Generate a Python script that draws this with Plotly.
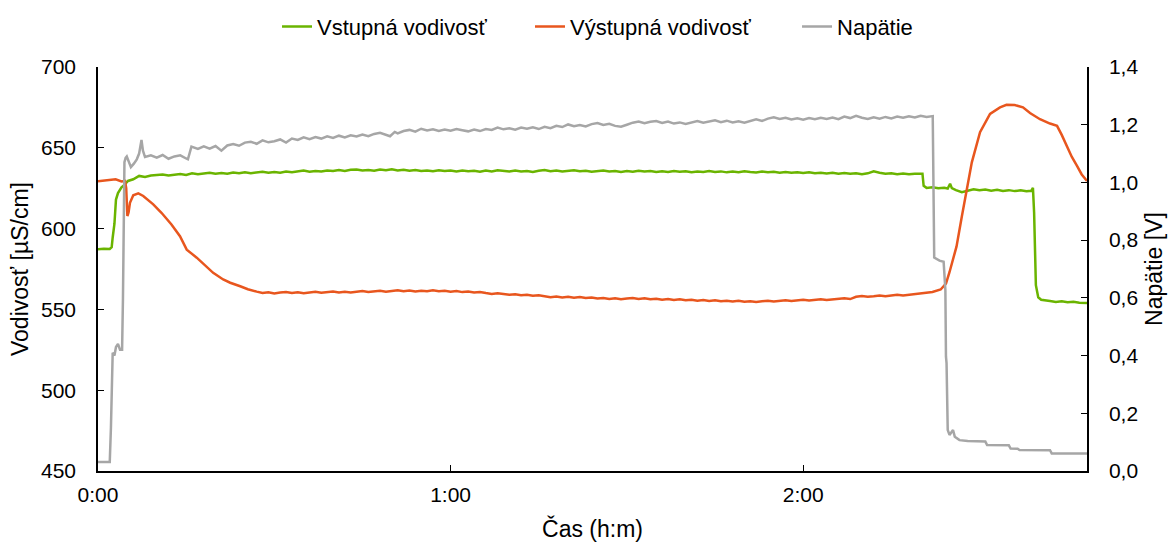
import plotly.graph_objects as go

# ---- data (time in minutes) ----
t_in = [0, 1, 2, 2.33, 2.5, 2.8, 3.06, 3.4, 4.0, 4.5, 5.1, 6,
        7, 8, 9, 10, 11, 12, 13, 14, 15, 16, 17, 18, 19, 20, 21, 22, 23, 24, 25, 26, 27, 28, 29, 30,
        31, 32, 33, 34, 35, 36, 37, 38, 39, 40, 41, 42, 43, 44, 45, 46, 47, 48, 49, 50, 51, 52, 53, 54, 55,
        56, 57, 58, 59, 60, 61, 62, 63, 64, 65, 66, 67, 68, 69, 70, 71, 72, 73, 74, 75, 76, 77, 78, 79, 80,
        81, 82, 83, 84, 85, 86, 87, 88, 89, 90, 91, 92, 93, 94, 95, 96, 97, 98, 99, 100,
        101, 102, 103, 104, 105, 106, 107, 108, 109, 110, 111, 112, 113, 114, 115, 116, 117, 118, 119, 120,
        121, 122, 123, 124, 125, 126, 127, 128, 129, 130, 131, 132, 133, 134, 135, 136, 137, 138, 139, 140,
        140.3, 140.5, 141, 142, 143, 144, 144.6, 145.0, 145.3, 146, 147, 148, 149, 150, 151, 152, 153, 154, 155, 156,
        157, 158, 158.8, 159.1, 159.3, 159.6, 160, 160.5, 161, 162, 163, 164, 165, 166, 167, 168.3]
vstupna = [587.2, 587.6, 587.4, 588.5, 594.5, 603, 618, 622, 625.5, 627, 629.5, 630.5,
           632.6, 632.0, 632.8, 633.0, 633.5, 632.9, 633.3, 633.8, 633.2, 634.2, 633.6, 634.0, 634.6, 634.0, 634.4, 633.9, 634.7, 634.2, 634.9, 634.3, 634.6, 635.1, 634.5, 635.0,
           634.6, 635.3, 634.8, 635.5, 635.9, 635.2, 635.7, 635.3, 636.0, 635.6, 636.2, 635.7, 636.4, 636.6, 635.9, 636.3, 635.8, 636.6, 636.1, 636.7, 636.0, 636.4, 635.8, 636.2, 635.6,
           636.0, 635.5, 636.1, 635.6, 635.9, 635.4, 636.0, 635.5, 635.8, 635.2, 635.9, 635.4, 636.1, 635.6, 635.3, 635.9, 635.4, 635.7, 635.1, 635.8, 636.2, 635.5, 635.9, 635.3, 635.7,
           636.1, 635.5, 635.8, 635.2, 635.6, 635.9, 635.3, 635.7, 635.1, 635.6, 635.2, 635.8, 635.3, 635.6, 635.0, 635.5, 635.1, 635.7, 635.2, 635.5,
           634.9, 635.4, 635.0, 635.6, 635.1, 635.4, 634.8, 635.3, 634.9, 635.5, 635.0, 634.7, 635.3, 634.8, 635.2, 634.6, 635.0, 634.5, 634.9, 634.4,
           634.8, 634.3, 634.6, 634.1, 634.5, 634.0, 634.4, 633.9, 634.3, 633.7, 634.2, 635.5, 634.6, 634.0, 634.3, 633.7, 634.1, 633.6, 634.0, 634.2,
           634.0, 626.5, 625.2, 625.6, 625.0, 625.3, 624.8, 627.8, 625.0, 623.8, 622.5, 623.4, 624.3, 623.7, 624.2, 623.5, 624.0, 623.3, 623.8, 623.2,
           623.7, 623.1, 623.4, 625.2, 610, 565, 557.5, 556, 555.6, 555.2, 554.6, 555.0, 554.4, 554.7, 554.1, 554.0]

t_out = [0, 1, 2, 3, 4, 4.6, 4.8, 5.0, 5.2, 5.44, 6.0, 6.86, 7.7, 8.5, 9.4, 10.8, 12.5, 13.95, 15.1, 16.8,
         18.5, 19.6, 21.3, 22.5, 24.2, 25.5, 27, 28,
         29, 30, 31, 32, 33, 34, 35, 36, 37, 38, 39, 40, 41, 42, 43, 44, 45, 46, 47, 48,
         49, 50, 51, 52, 53, 54, 55, 56, 57, 58, 59, 60, 61, 62, 63, 64, 65, 66, 67, 68,
         69, 70, 71, 72, 73, 74, 75, 76, 77, 78, 79, 80, 81, 82, 83, 84, 85, 86, 87, 88,
         89, 90, 91, 92, 93, 94, 95, 96, 97, 98, 99, 100, 101, 102, 103, 104, 105, 106, 107, 108,
         109, 110, 111, 112, 113, 114, 115, 116, 117, 118, 119, 120, 121, 122, 123, 124, 125, 126, 127, 128,
         129, 130, 131, 132, 133, 134, 135, 136, 137, 138, 139, 140, 141, 142,
         143.4, 144.3, 144.9, 146.1, 147.0, 147.8, 148.7, 150.1, 151.8, 153.5, 154.6, 156.0, 157.4, 158.6, 160.3, 162.0,
         163.2, 164.0, 164.9, 165.7, 166.6, 167.4, 168.3]
vystupna = [629.3, 629.8, 630.2, 630.5, 629.2, 629.5, 625, 607.8, 610, 616, 620.6, 621.8, 620.2, 617.8, 615, 609.8, 602.6, 595.3, 587, 582,
            576, 572.6, 568.5, 566.5, 564.3, 562.5, 561, 560.2,
            560.6, 559.9, 560.4, 560.8, 560.2, 560.6, 560.0, 560.5, 560.9, 560.3, 560.7, 561.1, 560.5, 560.9, 560.4, 561.0, 561.4, 560.8, 561.2, 561.6,
            561.0, 561.5, 561.9, 561.3, 561.7, 561.1, 561.6, 561.2, 561.8, 561.3, 561.6, 561.0, 561.4, 560.7, 561.1, 560.4, 560.8, 560.1, 559.6, 560.0,
            559.4, 559.0, 559.3, 558.7, 559.0, 558.4, 558.8, 558.1, 557.6, 558.0, 557.4, 557.8, 557.2, 557.6, 557.0, 557.3, 556.7, 557.1, 556.5, 556.9,
            556.3, 556.7, 557.0, 556.5, 556.9, 556.3, 556.6, 556.0, 556.4, 555.8, 556.2, 555.6, 556.0, 555.4, 555.8, 555.2, 555.6, 555.0, 555.4, 554.9,
            555.3, 554.7, 555.1, 554.6, 555.0, 555.4, 554.9, 555.3, 555.7, 555.2, 555.6, 556.0, 555.5, 555.9, 556.3, 555.8, 556.2, 556.6, 556.9, 556.4,
            557.8, 558.3, 557.9, 558.2, 558.6, 558.1, 558.5, 559.0, 558.6, 559.1, 559.5, 559.9, 560.4, 560.8,
            562.3, 566, 573, 589, 607.5, 624, 641, 659.7, 671, 675, 676.6, 676.5, 675, 671.5, 667.7, 665,
            663.6, 658, 651, 644.5, 638.8, 633.5, 629.5]

t_nap = [0, 1, 2.0, 2.2, 2.5, 2.8, 3.06, 3.4, 3.75, 4.1, 4.25, 4.5, 4.7, 4.9, 5.3, 5.6, 6.1, 6.6, 7.0, 7.4, 7.65,
         8, 9, 10, 11, 12, 13, 14, 15, 15.3, 15.9, 17, 18, 19, 20, 21, 22, 23, 24, 25, 26, 27, 28, 29, 30,
         31, 32, 33, 34, 35, 36, 37, 38, 39, 40, 41, 42, 43, 44, 45, 46, 47, 48, 49, 49.7, 50.5,
         51, 52, 53, 54, 55, 56, 57, 58, 59, 60, 61, 62, 63, 64, 65, 66, 67, 68, 69, 70,
         71, 72, 73, 74, 75, 76, 77, 78, 79, 80, 81, 82, 83, 84, 85, 86, 87, 88, 89, 90,
         91, 92, 93, 94, 95, 96, 97, 98, 99, 100, 101, 102, 103, 104, 105, 106, 107, 108, 109, 110,
         111, 112, 113, 114, 115, 116, 117, 118, 119, 120, 121, 122, 123, 124, 125, 126, 127, 128, 129, 130,
         131, 132, 133, 134, 135, 136, 137, 138, 139, 140, 141, 142, 142.05,
         142.3, 142.6, 143.2, 143.9, 144.2, 144.3, 144.4, 144.6, 144.9, 145.5, 145.8, 146.6, 148, 151.0, 151.3,
         155.0, 155.3, 156.5, 156.8, 162.0, 162.3, 168.3]
napatie = [0.031, 0.032, 0.031, 0.15, 0.41, 0.40, 0.43, 0.44, 0.42, 0.42, 0.6, 1.07, 1.085, 1.09, 1.07, 1.053, 1.065, 1.08, 1.10, 1.147, 1.11,
           1.088, 1.094, 1.086, 1.095, 1.082, 1.090, 1.094, 1.083, 1.080, 1.124, 1.116, 1.125, 1.117, 1.126, 1.110, 1.128, 1.133, 1.127, 1.138, 1.141, 1.134, 1.146, 1.139, 1.143,
           1.149, 1.138, 1.152, 1.147, 1.156, 1.150, 1.157, 1.152, 1.160, 1.154, 1.162, 1.156, 1.163, 1.159, 1.166, 1.160, 1.168, 1.172, 1.166, 1.160, 1.175,
           1.170, 1.178, 1.182, 1.176, 1.186, 1.180, 1.184, 1.178, 1.183, 1.179, 1.185, 1.181, 1.177, 1.183, 1.178, 1.185, 1.182, 1.190, 1.184, 1.188,
           1.183, 1.190, 1.186, 1.191, 1.185, 1.193, 1.188, 1.196, 1.192, 1.201, 1.195, 1.199, 1.194, 1.202, 1.206, 1.199, 1.203, 1.196, 1.193, 1.200,
           1.207, 1.211, 1.205, 1.210, 1.213, 1.206, 1.211, 1.204, 1.208, 1.203, 1.209, 1.213, 1.207, 1.212, 1.215, 1.209, 1.214, 1.208, 1.212, 1.207,
           1.214, 1.219, 1.213, 1.221, 1.226, 1.220, 1.224, 1.218, 1.222, 1.217, 1.223, 1.219, 1.224, 1.220, 1.225, 1.219, 1.228, 1.223, 1.231, 1.224,
           1.220, 1.226, 1.221, 1.227, 1.222, 1.228, 1.224, 1.229, 1.225, 1.231, 1.227, 1.230, 1.230,
           0.74, 0.737, 0.729, 0.725, 0.627, 0.396, 0.374, 0.142, 0.125, 0.142, 0.119, 0.107, 0.104, 0.102, 0.090,
           0.089, 0.078, 0.077, 0.073, 0.072, 0.061, 0.061]

assert len(t_in) == len(vstupna), (len(t_in), len(vstupna))
assert len(t_out) == len(vystupna), (len(t_out), len(vystupna))
assert len(t_nap) == len(napatie), (len(t_nap), len(napatie))

x_tickvals = [0, 60, 120]
x_ticktext = ["0:00", "1:00", "2:00"]
y2_tickvals = [0, 0.2, 0.4, 0.6, 0.8, 1.0, 1.2, 1.4]
y2_ticktext = ["0,0", "0,2", "0,4", "0,6", "0,8", "1,0", "1,2", "1,4"]

FONT = "Liberation Sans, Arial, sans-serif"
fig = go.Figure()
fig.add_trace(go.Scatter(x=t_in, y=vstupna, name="Vstupná vodivosť", mode="lines", legend="legend",
                         line=dict(color="#6AB400", width=2.5)))
fig.add_trace(go.Scatter(x=t_out, y=vystupna, name="Výstupná vodivosť", mode="lines", legend="legend2",
                         line=dict(color="#E8561E", width=2.5)))
fig.add_trace(go.Scatter(x=t_nap, y=napatie, name="Napätie", mode="lines", yaxis="y2", legend="legend3",
                         line=dict(color="#A6A6A6", width=2.5)))

leg = dict(orientation="h", xanchor="left", y=1.10, yanchor="middle", font=dict(size=22),
           bgcolor="rgba(0,0,0,0)")
axis_common = dict(showline=True, linecolor="black", linewidth=1.5, ticks="inside", ticklen=6,
                   tickcolor="black", showgrid=False, zeroline=False, tickfont=dict(size=21))

fig.update_layout(
    width=1172, height=542,
    margin=dict(l=98, r=85, t=67, b=71, autoexpand=False),
    paper_bgcolor="white", plot_bgcolor="white",
    font=dict(family=FONT, size=21, color="black"),
    showlegend=True,
    legend=dict(leg, x=0.181),
    legend2=dict(leg, x=0.4368),
    legend3=dict(leg, x=0.7068),
    xaxis=dict(axis_common, range=[0, 168.3], tickvals=x_tickvals, ticktext=x_ticktext,
               ticklabelstandoff=4, title=dict(text="Čas (h:m)", standoff=20, font=dict(size=23))),
    yaxis=dict(axis_common, range=[450, 700], dtick=50, tick0=450, ticklabelstandoff=16,
               title=dict(text="Vodivosť [µS/cm]", standoff=6, font=dict(size=23))),
    yaxis2=dict(axis_common, range=[0, 1.4], tickvals=y2_tickvals, ticktext=y2_ticktext,
                overlaying="y", side="right", ticklabelstandoff=16,
                title=dict(text="Napätie [V]", standoff=8, font=dict(size=23))),
)

fig.write_html("out.html")
